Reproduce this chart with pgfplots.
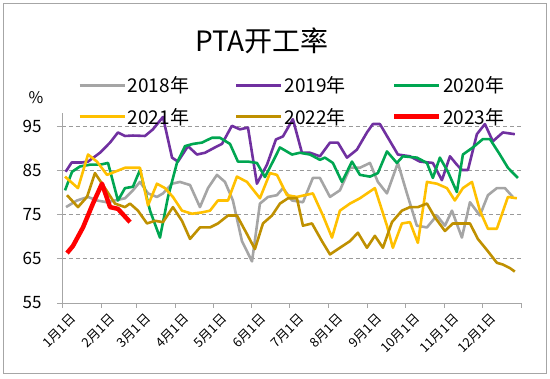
\documentclass[border=0pt]{standalone}
\usepackage{fontspec}
\setmainfont{Noto Sans CJK SC}
\usepackage{pgfplots}
\pgfplotsset{compat=1.18}
\usepackage{pgfplotstable}
\definecolor{c18}{HTML}{A5A5A5}
\definecolor{c19}{HTML}{7030A0}
\definecolor{c20}{HTML}{00A651}
\definecolor{c21}{HTML}{FFC000}
\definecolor{c22}{HTML}{BF9000}
\definecolor{c23}{HTML}{FF0000}
\definecolor{cax}{HTML}{A6A6A6}
\definecolor{cgrid}{HTML}{9A9A9A}

\pgfplotstableread{
d v
3.2 76.7
11.9 78.2
20.7 79
27.8 78.2
35.8 77.8
42.1 78.2
50.1 78.7
56.4 80.5
62 82.4
68.4 79.8
75.5 79
80.3 79.8
87.5 82
93.8 82.4
101.8 81.7
109.7 76.7
116.1 81
123.2 84
129.6 82.4
135.9 78.2
143.1 69
151.1 64.4
157.4 77.5
163.8 79
170.9 79.4
175.7 81
182.9 78.2
191.6 77.8
199.5 83.3
205.1 83.3
213.1 79
221 80.5
229 85.6
236.9 85.6
244.9 86.7
251.2 82.4
258.4 79.8
267.1 86.7
274.3 79.8
282.2 72.5
290.2 72.1
298.1 74.8
304.5 72.5
310.1 75.9
318 69.8
324.4 77.8
332.3 74.8
338.7 79.4
345.8 81
352.2 81
358.5 79
}\tA

\pgfplotstableread{
d v
2.9 84.7
7.7 86.8
15.7 86.8
20.7 87
30.2 89
38.2 91.3
44.5 93.6
50.1 92.8
56.4 92.9
66 92.8
72.3 94.3
80.3 97.1
87.5 87.9
92.2 87
100.2 90.5
107.3 88.6
113.7 89
121.6 90.2
127.2 91
135.1 95.1
141.5 94.3
147.9 94.7
155 82
163 86.3
170.1 92
175.7 92.7
183.6 96.6
190.8 89
197.2 89
205.1 88.2
213.1 91.3
219.4 91.3
226.6 87.9
234.5 89.7
242.5 93.6
247.2 95.5
252.8 95.5
258.4 92.8
267.1 88.6
276.7 88.2
284.6 87
294.9 86.7
302.1 82.8
308.5 88.2
314 86.3
318 85.1
322.8 85.1
329.9 93.2
336.3 95.5
342.6 91.6
350.6 93.6
360.1 93.2
}\tB

\pgfplotstableread{
d v
2.4 80.5
8 84.7
14.3 85.9
22.3 86.3
30.2 86.3
36.6 86.7
44.5 78.2
50.1 81
56.4 81.3
62 85.1
70 75.9
77.9 69.8
84.3 79
91.4 86.7
97.8 90.5
104.1 91
111.3 91.3
119.3 92.4
125.6 92.4
133.6 91
139.9 87
147.9 87
155 86.7
161.4 83.5
167.7 87
173.3 90.2
182.9 88.6
189.2 89
197.2 88.6
205.1 87.4
209.1 87.9
215.4 86.7
222.6 82.4
230.6 87
236.9 84
244.9 83.6
251.2 84.4
258.4 89.3
266.3 86.7
271.1 88.2
282.2 87.9
290.2 86.7
294.9 83.3
300.5 87.9
306.9 84.7
314 80.1
318.8 88.6
326.7 90.2
334.7 92.1
340.3 92.1
348.2 88.6
354.6 85.6
362.5 83.3
}\tC

\pgfplotstableread{
d v
2.4 83.6
12.7 81
20.7 88.6
27.8 87
35.8 84
42.1 84.7
50.1 85.6
62 85.6
68.4 77.1
75.5 82
81.9 81
88.2 79
95.4 75.9
103.4 75.2
111.3 75.5
117.7 75.9
124 78.2
132 78.2
139.1 83.6
147.1 82.4
157.4 78.7
165.4 84.4
170.9 84
178.9 79.4
186.8 79
199.5 79.8
207.5 74.8
214.7 69.8
221 75.9
229 77.5
236.9 78.7
248.8 81
258.4 72.5
263.1 67.5
270.3 73
276.7 73.3
283 68.6
290.2 82.4
298.1 82
306.1 81
312.4 78.2
318.8 81
326 82.4
332.3 75.9
338.7 71.8
345.8 71.8
354.6 79
361.7 78.7
}\tD

\pgfplotstableread{
d v
4 79.4
12.7 76.7
19.9 79
26.2 84.4
34.2 81
42.1 77.5
50.1 76.7
54.1 77.5
60.4 75.9
67.6 73
73.9 73.6
80.3 73.3
88.2 76.7
95.4 73.6
101.8 69.5
109.7 72.1
117.7 72.1
124 73
132 74.8
139.1 74.8
147.1 70.6
153.4 67.2
159.8 73
167 74.8
173.3 77.5
179.7 78.7
186.8 78.7
191.6 72.5
198.8 73
206.7 69
213.1 66
221 67.5
229 69
235.3 70.9
242.5 67.5
248.8 70.2
255.2 67.5
262.4 73.3
270.3 75.9
276.7 76.7
283 76.7
290.2 77.5
296.5 74.4
304.5 71.3
310.8 73
318 73
324.4 73
330.7 69.5
338.7 66.7
345.8 64.1
350.6 63.7
356.2 62.9
360.1 62.1
}\tE

\pgfplotstableread{
d v
4 66.3
8.7 67.9
16.7 72.1
24.6 77.5
31.8 82
38.2 76.7
44.5 76.3
54.1 73.3
}\tF

\begin{document}
\begin{tikzpicture}
\useasboundingbox (0pt,0pt) rectangle (550pt,379pt);
\draw[cax, line width=1pt] (3pt,5pt) rectangle (546pt,375pt);
\node[font=\fontsize{28}{32}\selectfont, inner sep=0pt] at (262pt,338pt) {PTA开工率};
\node[font=\fontsize{16}{18}\selectfont, inner sep=0pt] at (36pt,281pt) {\%};
\begin{axis}[
  at={(62pt,76pt)}, anchor=south west,
  scale only axis, width=459pt, height=190pt,
  xmin=0, xmax=365, ymin=55, ymax=98,
  axis lines*=left,
  axis line style={draw=cax, line width=0.8pt},
  tick style={draw=cax, line width=0.8pt},
  tick align=outside,
  major tick length=5pt,
  ytick={55,65,75,85,95},
  ymajorgrids,
  grid style={dash pattern=on 4pt off 3pt, cgrid, line width=0.8pt},
  xtick={0,31,59,90,120,151,181,212,243,273,304,334,365},
  xticklabels={1月1日,2月1日,3月1日,4月1日,5月1日,6月1日,7月1日,8月1日,9月1日,10月1日,11月1日,12月1日,},
  xticklabel style={rotate=45, anchor=north east, font=\fontsize{13}{15}\selectfont, inner sep=0.5pt, xshift=3pt, yshift=-8pt},
  yticklabel style={font=\fontsize{17}{20}\selectfont, xshift=-12pt},
  /pgf/number format/assume math mode=true,
  clip=false,
  legend columns=3,
  legend image code/.code={\draw[#1, line cap=butt] (0pt,0pt) -- (45pt,0pt);},
  legend style={at={(0.035,1.204)}, anchor=north west, draw=none, fill=none,
    font=\fontsize{19}{22}\selectfont, inner sep=0pt, row sep=10pt,
    /tikz/every even column/.append style={column sep=44pt},
    nodes={inner sep=2pt}},
  every axis plot/.append style={line width=2.6pt, line join=round},
]
\addplot[c18, no marks] table[x=d,y=v] {\tA};
\addlegendentry{2018年}
\addplot[c19, no marks] table[x=d,y=v] {\tB};
\addlegendentry{2019年}
\addplot[c20, no marks] table[x=d,y=v] {\tC};
\addlegendentry{2020年}
\addplot[c21, no marks] table[x=d,y=v] {\tD};
\addlegendentry{2021年}
\addplot[c22, no marks] table[x=d,y=v] {\tE};
\addlegendentry{2022年}
\addplot[c23, no marks, line width=4.5pt] table[x=d,y=v] {\tF};
\addlegendentry{2023年}
\end{axis}
\end{tikzpicture}
\end{document}
